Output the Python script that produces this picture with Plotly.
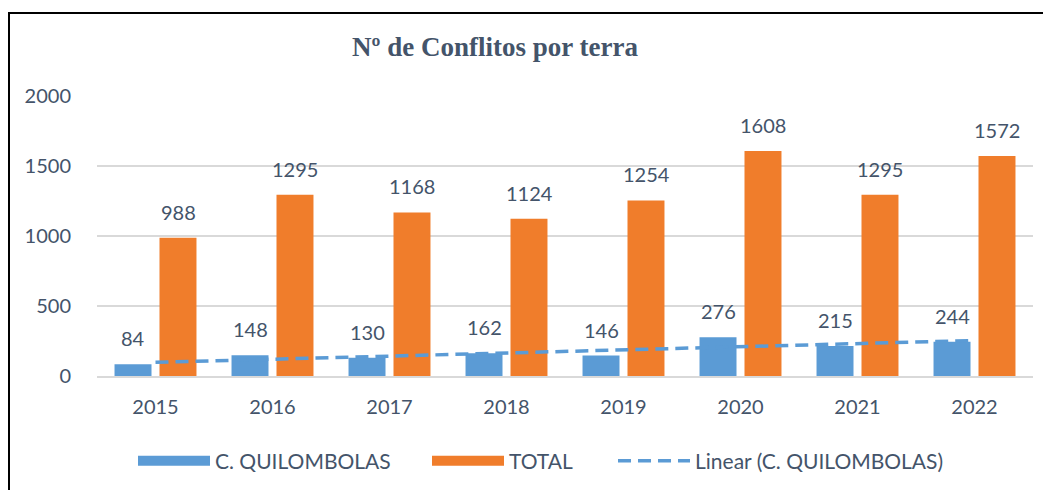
import numpy as np
import plotly.graph_objects as go

years = ["2015", "2016", "2017", "2018", "2019", "2020", "2021", "2022"]
quilombolas = [84, 148, 130, 162, 146, 276, 215, 244]
total = [988, 1295, 1168, 1124, 1254, 1608, 1295, 1572]
y_ticks = [0, 500, 1000, 1500, 2000]

title_text = "Nº de Conflitos por terra"
name_q = "C. QUILOMBOLAS"
name_t = "TOTAL"
name_lin = "Linear (C. QUILOMBOLAS)"

# linear trend line of the C. QUILOMBOLAS series (as Excel's linear trendline)
idx = np.arange(1, len(quilombolas) + 1)
slope, intercept = np.polyfit(idx, quilombolas, 1)
trend = slope * idx + intercept

TXT = "#44546A"
BLUE = "#5B9BD5"
ORANGE = "#F07D2B"
FONT = "Lato"

# the page adds an 8px body margin, so the figure is laid out 8px smaller
W, H = 1043, 482
PL, PR, PT, PB = 89, 1025, 88, 368  # plot area in figure pixels

fig = go.Figure()
fig.add_trace(go.Bar(x=years, y=quilombolas, name=name_q, showlegend=False,
                     marker=dict(color=BLUE, line=dict(width=0))))
fig.add_trace(go.Bar(x=years, y=total, name=name_t, showlegend=False,
                     marker=dict(color=ORANGE, line=dict(width=0))))
fig.add_trace(go.Scatter(x=years, y=trend, name=name_lin, mode="lines",
                         showlegend=False,
                         line=dict(color=BLUE, width=3.5, dash="13px,7px")))
# legend entries (wide swatches like the original)
fig.add_trace(go.Scatter(x=[None], y=[None], name=name_q, mode="lines",
                         legend="legend", line=dict(color=BLUE, width=13)))
fig.add_trace(go.Scatter(x=[None], y=[None], name=name_t, mode="lines",
                         legend="legend2", line=dict(color=ORANGE, width=13)))
fig.add_trace(go.Scatter(x=[None], y=[None], name=name_lin, mode="lines",
                         legend="legend3",
                         line=dict(color=BLUE, width=3.5, dash="13px,7px")))

annotations = []
for i, (q, t) in enumerate(zip(quilombolas, total)):
    for val, dx in ((q, -22.5), (t, 22.5)):
        annotations.append(dict(x=i, y=val, xref="x", yref="y", text=str(val),
                                showarrow=False, xshift=dx, yshift=12,
                                yanchor="bottom", xanchor="center",
                                font=dict(family=FONT, size=20, color=TXT)))


def leg(xpx):
    return dict(orientation="h", x=xpx / W, xanchor="left", xref="container",
                y=1 - 453 / H, yanchor="middle", yref="container",
                font=dict(family=FONT, size=21, color=TXT),
                itemwidth=72, borderwidth=0, bgcolor="rgba(0,0,0,0)")


fig.update_layout(
    width=W, height=H,
    margin=dict(l=PL, r=W - PR, t=PT, b=H - PB, autoexpand=False),
    paper_bgcolor="white", plot_bgcolor="white",
    barmode="group", bargap=0.231, bargroupgap=0.178,
    font=dict(family=FONT, size=20, color=TXT),
    title=dict(text="<b>" + title_text + "</b>", x=487 / W, xanchor="center",
               y=1 - 39 / H, yanchor="middle",
               font=dict(family="Liberation Serif", size=27, color=TXT)),
    showlegend=True,
    legend=leg(125), legend2=leg(419), legend3=leg(605),
    annotations=annotations,
    shapes=[dict(type="rect", xref="paper", yref="paper",
                 x0=(1 - PL) / (PR - PL), x1=1.2, y0=-1.0,
                 y1=(PB - 5) / (PB - PT),
                 line=dict(color="black", width=2), fillcolor="rgba(0,0,0,0)",
                 layer="above")],
)
fig.update_xaxes(type="category", showgrid=False, showline=True,
                 linecolor="#D9D9D9", linewidth=2, ticks="",
                 tickfont=dict(family=FONT, size=20, color=TXT),
                 ticklabelstandoff=12)
fig.update_yaxes(range=[0, 2000], tickvals=y_ticks, showgrid=True,
                 gridcolor="#D9D9D9", gridwidth=1.5, zeroline=False,
                 showline=False, ticks="",
                 tickfont=dict(family=FONT, size=20, color=TXT),
                 ticklabelstandoff=25)

fig.write_html("out.html")
